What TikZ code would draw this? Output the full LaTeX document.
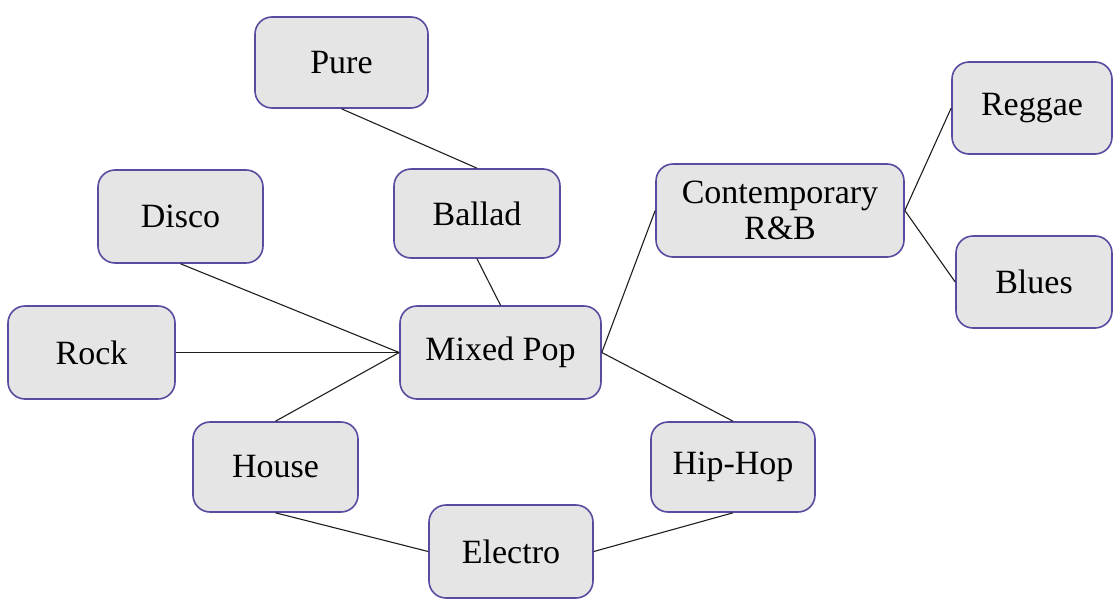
\documentclass[tikz,border=0pt]{standalone}
\usepackage{fontspec}
\setmainfont{Liberation Serif}
\definecolor{boxborder}{RGB}{88,76,160}
\definecolor{boxfill}{RGB}{229,229,229}
\definecolor{linkcol}{RGB}{30,30,30}
\tikzset{
  genre/.style={draw=boxborder, fill=boxfill, line width=1.6pt, rounded corners=17pt,
    inner sep=0pt, align=center, font=\fontsize{34}{36}\selectfont},
  link/.style={draw=linkcol, line width=1.1pt}
}
\begin{document}
\begin{tikzpicture}[x=1pt,y=-1pt]
\useasboundingbox (0,0) rectangle (1113,608);
\node[genre, minimum width=173pt, minimum height=91pt] (pure) at (341.5,62.5) {Pure};
\node[genre, minimum width=166pt, minimum height=89pt] (ballad) at (477,213.5) {Ballad};
\node[genre, minimum width=165pt, minimum height=93pt] (disco) at (180.5,216.5) {Disco};
\node[genre, minimum width=167pt, minimum height=93pt] (rock) at (91.5,352.5) {Rock};
\node[genre, minimum width=201pt, minimum height=93pt] (mixed) at (500.5,352.5) {Mixed Pop};
\node[genre, minimum width=165pt, minimum height=90pt] (house) at (275.5,467) {House};
\node[genre, minimum width=164pt, minimum height=90pt] (hiphop) at (733,467) {Hip-Hop};
\node[genre, minimum width=164pt, minimum height=93pt] (electro) at (511,551.5) {Electro};
\node[genre, minimum width=248pt, minimum height=93pt] (rnb) at (780,210.5) {Contemporary\\R\&B};
\node[genre, minimum width=160pt, minimum height=92pt] (reggae) at (1032,108) {Reggae};
\node[genre, minimum width=156pt, minimum height=92pt] (blues) at (1034,282) {Blues};
\draw[link] (pure.south) -- (ballad.north);
\draw[link] (ballad.south) -- (mixed.north);
\draw[link] (disco.south) -- (mixed.west);
\draw[link] (rock.east) -- (mixed.west);
\draw[link] (house.north) -- (mixed.west);
\draw[link] (mixed.east) -- (hiphop.north);
\draw[link] (mixed.east) -- (rnb.west);
\draw[link] (house.south) -- (electro.west);
\draw[link] (electro.east) -- (hiphop.south);
\draw[link] (rnb.east) -- (reggae.west);
\draw[link] (rnb.east) -- (blues.west);
\end{tikzpicture}
\end{document}
